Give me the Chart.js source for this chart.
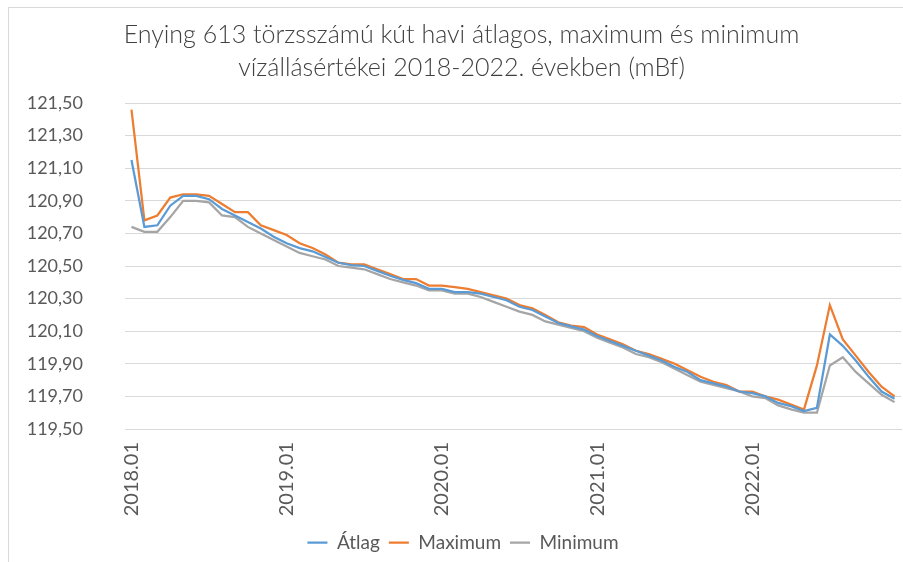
<!DOCTYPE html>
<html>
<head>
<meta charset="utf-8">
<script src="https://cdn.jsdelivr.net/npm/chart.js@4.4.1/dist/chart.umd.min.js"></script>
<style>
  html, body { margin: 0; padding: 0; background: #fff; overflow: hidden; }
  #frame { position: absolute; left: 8px; top: 7px; width: 1200px; height: 900px; border: 1px solid #d9d9d9; }
  #wrap { position: absolute; left: 0; top: 0; width: 903px; height: 562px; }
</style>
</head>
<body>
<div id="frame"></div>
<div id="wrap"><canvas id="chart"></canvas></div>
<script>
// Havi értékek 2018.01 - 2022.12 (mBf)
const months = [];
for (let y = 2018; y <= 2022; y++) {
    for (let m = 1; m <= 12; m++) {
        months.push(y + '.' + String(m).padStart(2, '0'));
    }
}

const atlag = [
    121.15, 120.74, 120.75, 120.87, 120.93, 120.93, 120.91, 120.85, 120.81, 120.77, 120.73, 120.68,
    120.64, 120.61, 120.59, 120.555, 120.52, 120.505, 120.50, 120.47, 120.44, 120.415, 120.395, 120.36,
    120.36, 120.34, 120.34, 120.33, 120.31, 120.29, 120.25, 120.23, 120.19, 120.15, 120.13, 120.11,
    120.07, 120.04, 120.01, 119.98, 119.95, 119.92, 119.88, 119.85, 119.80, 119.78, 119.76, 119.73,
    119.72, 119.70, 119.66, 119.64, 119.61, 119.63, 120.08, 120.01, 119.92, 119.82, 119.73, 119.685
];

const maximum = [
    121.46, 120.78, 120.81, 120.92, 120.94, 120.94, 120.93, 120.88, 120.83, 120.83, 120.75, 120.72,
    120.69, 120.64, 120.61, 120.57, 120.52, 120.51, 120.51, 120.48, 120.45, 120.42, 120.42, 120.38,
    120.38, 120.37, 120.36, 120.34, 120.32, 120.30, 120.26, 120.24, 120.20, 120.155, 120.135, 120.125,
    120.08, 120.05, 120.02, 119.98, 119.96, 119.93, 119.90, 119.86, 119.82, 119.79, 119.77, 119.73,
    119.73, 119.70, 119.68, 119.65, 119.62, 119.89, 120.26, 120.05, 119.95, 119.85, 119.76, 119.70
];

const minimum = [
    120.74, 120.71, 120.71, 120.80, 120.90, 120.90, 120.89, 120.81, 120.80, 120.74, 120.70, 120.66,
    120.62, 120.58, 120.56, 120.54, 120.50, 120.49, 120.48, 120.45, 120.42, 120.40, 120.38, 120.35,
    120.35, 120.33, 120.33, 120.31, 120.28, 120.25, 120.22, 120.20, 120.16, 120.14, 120.12, 120.10,
    120.06, 120.03, 120.00, 119.96, 119.94, 119.91, 119.87, 119.83, 119.79, 119.77, 119.75, 119.73,
    119.70, 119.69, 119.645, 119.62, 119.60, 119.60, 119.89, 119.94, 119.85, 119.78, 119.71, 119.665
];

const textColor = '#595959';
const gridColor = '#d9d9d9';

function series(label, data, color) {
    return {
        label: label,
        data: data,
        borderColor: color,
        backgroundColor: color,
        borderWidth: 2.25,
        pointRadius: 0,
        tension: 0
    };
}

// title and legend sit a little right of the canvas centre in the original
const boxShift = {
    id: 'boxShift',
    afterLayout(chart) {
        const lg = chart.legend;
        const dx = 463 - (lg.left + lg.right) / 2;
        const dy = 543 - (lg.top + lg.bottom) / 2;
        lg.left += dx;
        lg.right += dx;
        lg.top += dy;
        lg.bottom += dy;
        const t = chart.titleBlock;
        t.left += 11;
        t.right += 11;
    }
};

const ctx = document.getElementById('chart').getContext('2d');
const chart = new Chart(ctx, {
    type: 'line',
    data: {
        labels: months,
        datasets: [
            series('Átlag', atlag, '#5b9bd5'),
            series('Maximum', maximum, '#ed7d31'),
            series('Minimum', minimum, '#a5a5a5')
        ]
    },
    plugins: [boxShift],
    options: {
        responsive: true,
        maintainAspectRatio: false,
        animation: false,
        layout: {
            padding: { left: 0, right: 2, top: 0, bottom: 3 }
        },
        plugins: {
            title: {
                display: true,
                text: ['Enying 613 törzsszámú kút havi átlagos, maximum és minimum',
                       'vízállásértékei 2018-2022. években (mBf)'],
                color: '#404040',
                font: { family: 'Lato', size: 25, weight: '300', lineHeight: 1.3 },
                padding: { top: 19, bottom: 19 }
            },
            legend: {
                position: 'bottom',
                labels: {
                    usePointStyle: true,
                    pointStyle: 'line',
                    pointStyleWidth: 20,
                    color: textColor,
                    font: { family: 'Lato', size: 19 },
                    padding: 9
                }
            },
            tooltip: { enabled: false }
        },
        scales: {
            x: {
                offset: true,
                grid: { display: false, drawTicks: false },
                border: { display: true, color: gridColor, width: 1 },
                afterFit(scale) {
                    scale.paddingLeft = 0;
                    scale.paddingRight = 0;
                    scale.height = 92;
                },
                ticks: {
                    autoSkip: false,
                    maxRotation: 90,
                    minRotation: 90,
                    padding: 13,
                    color: textColor,
                    font: { family: 'Lato', size: 20 },
                    callback: function(value, index) {
                        return index % 12 === 0 ? months[index] : '';
                    }
                }
            },
            y: {
                min: 119.5,
                max: 121.5,
                grid: { color: gridColor, drawTicks: false },
                border: { display: false },
                afterFit(scale) {
                    scale.width = 125;
                },
                ticks: {
                    stepSize: 0.2,
                    padding: 42,
                    color: textColor,
                    font: { family: 'Lato', size: 18 },
                    callback: function(value) {
                        return value.toFixed(2).replace('.', ',');
                    }
                }
            }
        }
    }
});
</script>
</body>
</html>
